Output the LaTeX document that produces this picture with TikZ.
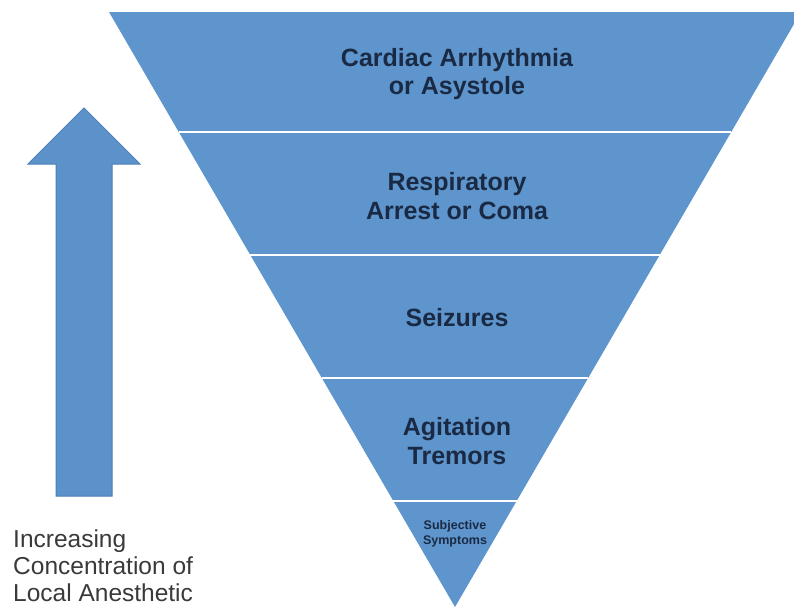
\documentclass[tikz,border=0pt]{standalone}
\usepackage{fontspec}
\setmainfont{Liberation Sans}
\usetikzlibrary{calc}
\definecolor{bandblue}{HTML}{5E95CC}
\definecolor{arrowblue}{HTML}{5B92C9}
\definecolor{arrowedge}{HTML}{4A7FB6}
\definecolor{navytext}{HTML}{1B2A44}
\definecolor{graytext}{HTML}{3A3A3A}
\tikzset{
  bandtext/.style={text=navytext, font=\bfseries\fontsize{25}{28.5}\selectfont, align=center, inner sep=0pt},
  smalltext/.style={text=navytext, font=\bfseries\fontsize{12.5}{15}\selectfont, align=center, inner sep=0pt},
  sidetext/.style={text=graytext, font=\fontsize{24.5}{27}\selectfont, align=left, inner sep=0pt, anchor=west},
  divider/.style={white, line width=2.2pt}
}
\begin{document}
\begin{tikzpicture}[x=1pt,y=-1pt]
\useasboundingbox (0,0) rectangle (794,608);
\begin{scope}
\clip (0,0) rectangle (794,608);
% triangle
\coordinate (TL) at (109,12);
\coordinate (TR) at (801,12);
\coordinate (AP) at (455,607);
\fill[bandblue] (TL) -- (TR) -- (AP) -- cycle;
% dividers
\foreach \t in {0.2017,0.4084,0.6151,0.8218}{
  \draw[divider] ($(TL)!\t!(AP)$) -- ($(TR)!\t!(AP)$);
}
\end{scope}
% texts
\node[bandtext] (b1) at (457,74) {Cardiac Arrhythmia\\or Asystole};
\node[bandtext] (b2) at (457,196) {Respiratory\\Arrest or Coma};
\node[bandtext] (b3) at (457,318) {Seizures};
\node[bandtext] (b4) at (457,441) {Agitation\\Tremors};
\node[smalltext] (b5) at (455,534) {Subjective\\Symptoms};
% arrow
\coordinate (tip) at (84,108);
\filldraw[fill=arrowblue, draw=arrowedge, line width=1pt]
  (tip) -- (140,164) -- (112,164) -- (112,496) -- (56,496) -- (56,164) -- (28,164) -- cycle;
\node[sidetext] (lbl) at (13,566) {Increasing\\Concentration of\\Local Anesthetic};
\end{tikzpicture}
\end{document}
